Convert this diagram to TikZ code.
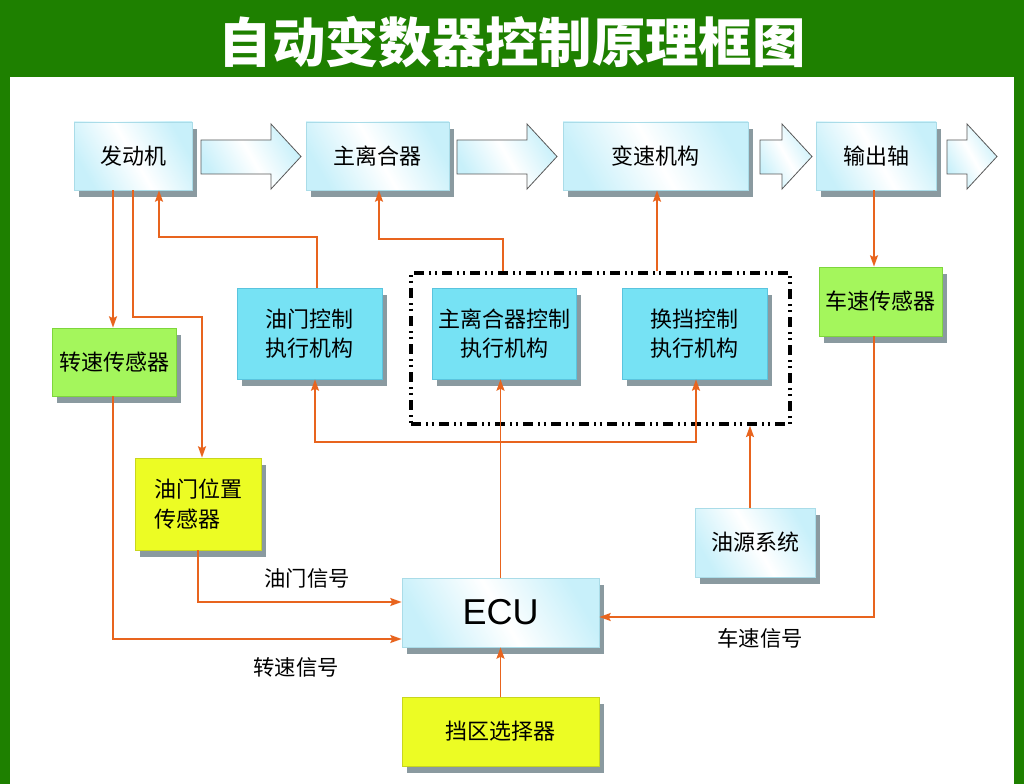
\documentclass[tikz,border=0pt]{standalone}
\usepackage{fontspec}
\usepackage{tikz}
\usetikzlibrary{arrows.meta,shadows}
\newfontfamily\cjk{Noto Sans CJK SC}
\newfontfamily\ecufont{Liberation Sans}

\definecolor{frameGreen}{RGB}{30,128,0}
\definecolor{sigOrange}{RGB}{232,100,30}
\definecolor{shadowGray}{RGB}{138,154,160}
\definecolor{paleCyan}{RGB}{200,240,250}
\definecolor{paleEdge}{RGB}{170,220,232}
\definecolor{actCyan}{RGB}{118,226,244}
\definecolor{actEdge}{RGB}{90,196,222}
\definecolor{sensGreen}{RGB}{164,246,92}
\definecolor{sensEdge}{RGB}{126,214,60}
\definecolor{tpsYellow}{RGB}{236,252,36}
\definecolor{tpsEdge}{RGB}{200,214,30}

\tikzset{
  blk/.style={line width=0.6pt, inner sep=0pt, font=\cjk\fontsize{16.5}{22}\selectfont,
    drop shadow={shadow xshift=3.5pt, shadow yshift=-5.25pt, opacity=1, fill=shadowGray}},
  pale/.style={blk, draw=paleEdge, left color=paleCyan, right color=paleCyan, middle color=white, shading angle=120},
  actbox/.style={blk, draw=actEdge, fill=actCyan, align=center},
  sensbox/.style={blk, draw=sensEdge, fill=sensGreen},
  tpsbox/.style={blk, draw=tpsEdge, fill=tpsYellow},
  grpbox/.style={draw=black, line width=2.6pt, dash pattern=on 7.5pt off 4pt on 1.5pt off 2.5pt on 1.5pt off 4pt},
  flow/.style={draw=black!65, line width=0.6pt, left color=paleCyan, right color=paleCyan, middle color=white, shading angle=120},
  sig/.style={draw=sigOrange, line width=1.4pt, -{Stealth[length=8.5pt,width=6pt,inset=1.5pt]}},
  lbl/.style={inner sep=0pt, font=\cjk\fontsize{16}{20}\selectfont}
}

\begin{document}
\begin{tikzpicture}[x=0.75pt,y=0.75pt,yscale=-1,xscale=1]
\useasboundingbox (0,0) rectangle (1024,784);

%Frame
\fill[frameGreen] (0,0) rectangle (1024,784);
\fill[white] (10,77) rectangle (1014,784);

% Text Node
\node[text=white, font=\cjk\bfseries\fontsize{40}{40}\selectfont] (title) at (512,42) {自动变数器控制原理框图};

%Shape: Rectangle
\node[pale, minimum width=88.5pt, minimum height=51pt] (eng) at (133,156) {发动机};
\node[pale, minimum width=107.25pt, minimum height=51pt] (clu) at (377.5,156) {主离合器};
\node[pale, minimum width=138.75pt, minimum height=51pt] (gbx) at (655.5,156) {变速机构};
\node[pale, minimum width=90pt, minimum height=51pt] (out) at (876,156) {输出轴};

%Shape: Right Arrow
\foreach \a/\b/\c in {201/271/301, 457/527/557, 760/782/812, 947/967/997}
  \draw[flow] (\a,140) -- (\b,140) -- (\b,124) -- (\c,156.5) -- (\b,189) -- (\b,174) -- (\a,174) -- cycle;

%Shape: Rectangle
\node[sensbox, minimum width=93pt, minimum height=51pt] (rps) at (114,362) {转速传感器};
\node[actbox, minimum width=108.75pt, minimum height=68.25pt] (thract) at (309.5,333.5) {油门控制\\执行机构};
\node[actbox, minimum width=108pt, minimum height=68.25pt] (cluact) at (504,333.5) {主离合器控制\\执行机构};
\node[actbox, minimum width=108.75pt, minimum height=68.25pt] (shiftact) at (694.5,333.5) {换挡控制\\执行机构};
\node[sensbox, minimum width=92.25pt, minimum height=51.75pt] (vss) at (880.5,301.5) {车速传感器};
\node[tpsbox, align=left, minimum width=94.5pt, minimum height=69pt] (tps) at (198,504) {油门位置\\传感器};
\node[pale, minimum width=90pt, minimum height=51.75pt] (oil) at (755,542.5) {油源系统};
\node[pale, minimum width=147.75pt, minimum height=51.75pt, font=\ecufont\fontsize{27}{27}\selectfont] (ecu) at (500.5,612.5) {ECU};
\node[tpsbox, minimum width=147.75pt, minimum height=51.75pt] (sel) at (500.5,731.5) {挡区选择器};

%Shape: Dash Dot Rectangle
\node[grpbox, minimum width=284.25pt, minimum height=113.25pt] (grp) at (600.5,348.5) {};

%Straight Lines
\draw[sig] (eng.south -| 113,0) -- (rps.north -| 113,0);
\draw[sig] (eng.south -| 133,0) |- (202,317) -- (tps.north -| 202,0);
\draw[sig] (thract.north -| 317,0) |- (159,237) -- (eng.south -| 159,0);
\draw[sig] (grp.north -| 503,0) |- (379,239) -- (clu.south -| 379,0);
\draw[sig] (grp.north -| 657,0) -- (gbx.south -| 657,0);
\draw[sig] (out.south -| 874,0) -- (vss.north -| 874,0);
\draw[sig] (vss.south -| 874,0) |- (ecu.east |- 0,617);
\draw[sig] (rps.south -| 113,0) |- (ecu.west |- 0,639);
\draw[sig] (tps.south -| 198,0) |- (ecu.west |- 0,602);
\draw[sig] (ecu.north) -- (cluact.south -| ecu.north);
\coordinate (split) at (500.5,442);
\draw[sig] (split) -| (thract.south -| 315,0);
\draw[sig] (split) -| (shiftact.south -| 696,0);
\draw[sig] (oil.north -| 750,0) -- (grp.south -| 750,0);
\draw[sig] (sel.north) -- (ecu.south);

% Text Node
\node[lbl] (thrsig) at (307,578) {油门信号};
% Text Node
\node[lbl] (rpmsig) at (296,667) {转速信号};
% Text Node
\node[lbl] (spdsig) at (760,638) {车速信号};
\end{tikzpicture}
\end{document}
